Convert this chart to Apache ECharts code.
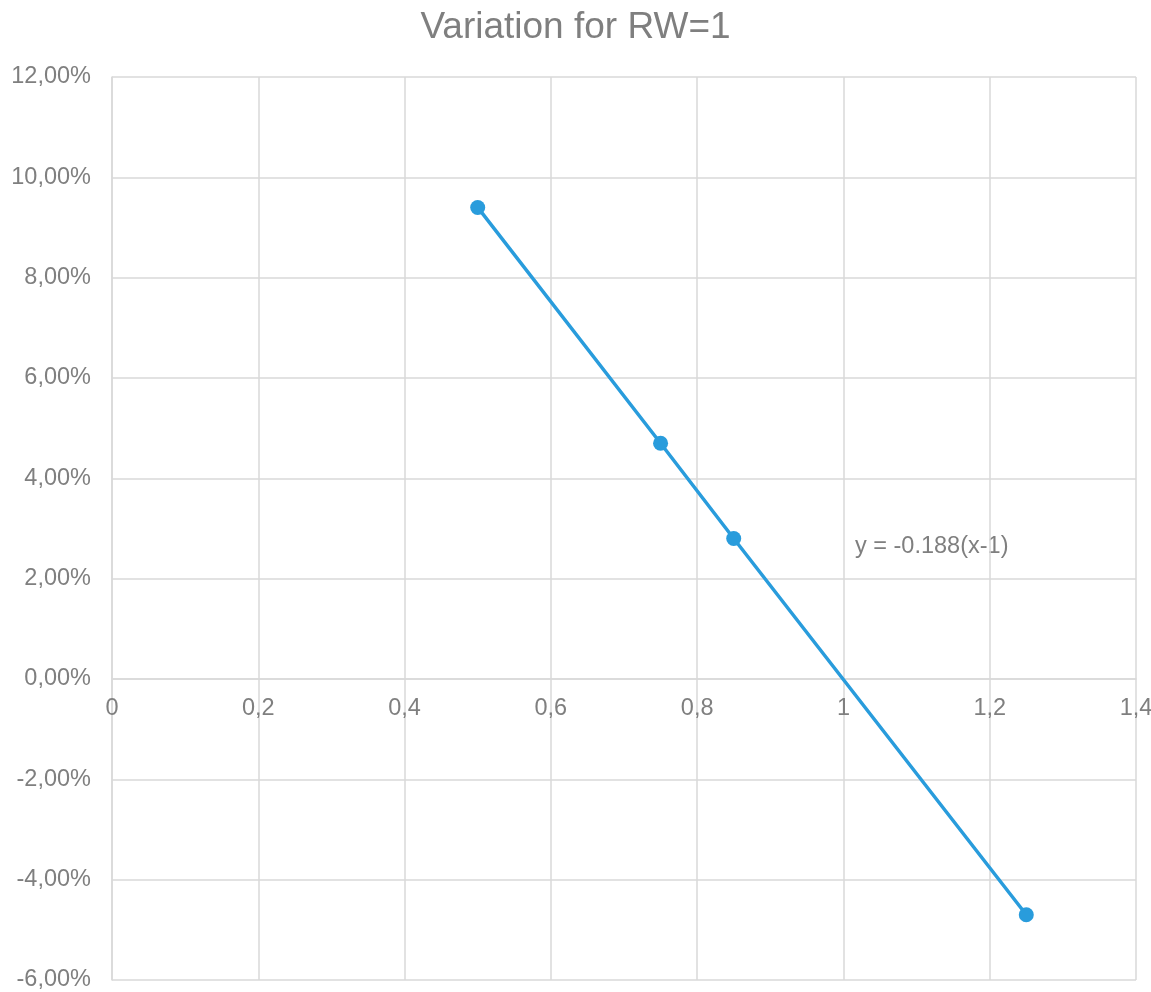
<!DOCTYPE html>
<html>
<head>
<meta charset="utf-8">
<script src="https://cdn.jsdelivr.net/npm/echarts@6/dist/echarts.min.js"></script>
<style>
html,body{margin:0;padding:0;background:#fff;}
#chart{width:1151px;height:992px;}
</style>
</head>
<body>
<div id="chart"></div>
<script>
const titleText = 'Variation for RW=1';
const xValues = [0.5, 0.75, 0.85, 1.25];
const yValues = [0.094, 0.047, 0.028, -0.047];
const trendLabel = 'y = -0.188(x-1)';

const yMin = -0.06, yMax = 0.12;
const gridTop = 77, gridBottom = 12, chartH = 992;
const plotH = chartH - gridTop - gridBottom;
const zeroOffset = -plotH * (0 - yMin) / (yMax - yMin);

const chart = echarts.init(document.getElementById('chart'));
const grey = '#7f7f7f';
const font = 'Liberation Sans, Arial, sans-serif';
chart.setOption({
  backgroundColor: '#fff',
  animation: false,
  title: {
    text: titleText, left: 'center', top: 4,
    textStyle: { color: grey, fontSize: 37, fontWeight: 'normal', fontFamily: font }
  },
  grid: { left: 112, right: 15, top: gridTop, bottom: gridBottom, containLabel: false, outerBoundsMode: 'none' },
  xAxis: [{
    type: 'value', min: 0, max: 1.4, interval: 0.2, position: 'bottom',
    axisLine: { show: false, onZero: false },
    axisTick: { show: false },
    axisLabel: { show: false },
    splitLine: { show: true, lineStyle: { color: '#d9d9d9', width: 1.5 } }
  }, {
    type: 'value', min: 0, max: 1.4, interval: 0.2, position: 'bottom', offset: zeroOffset,
    axisLine: { show: true, onZero: false, lineStyle: { color: '#d9d9d9', width: 1.5 } },
    axisTick: { show: false },
    splitLine: { show: false },
    axisLabel: {
      color: grey, fontSize: 23.5, fontFamily: font, margin: 18,
      formatter: v => String(Math.round(v * 10) / 10).replace('.', ',')
    }
  }],
  yAxis: {
    type: 'value', min: yMin, max: yMax, interval: 0.02,
    axisLine: { show: true, onZero: false, lineStyle: { color: '#d9d9d9', width: 1.5 } },
    axisTick: { show: false },
    splitLine: { show: true, lineStyle: { color: '#d9d9d9', width: 1.5 } },
    axisLabel: {
      color: grey, fontSize: 23.5, fontFamily: font, margin: 21, padding: [5, 0, 0, 0],
      formatter: v => (v * 100).toFixed(2).replace('.', ',') + '%'
    }
  },
  series: [{
    type: 'line',
    xAxisIndex: 0,
    data: xValues.map((x, i) => [x, yValues[i]]),
    symbol: 'circle', symbolSize: 15,
    lineStyle: { color: '#299cdc', width: 3.5 },
    itemStyle: { color: '#299cdc' }
  }],
  graphic: [{
    type: 'text', left: 855, top: 535,
    style: { text: trendLabel, fill: grey, fontSize: 23.5, fontFamily: font }
  }]
});
</script>
</body>
</html>
